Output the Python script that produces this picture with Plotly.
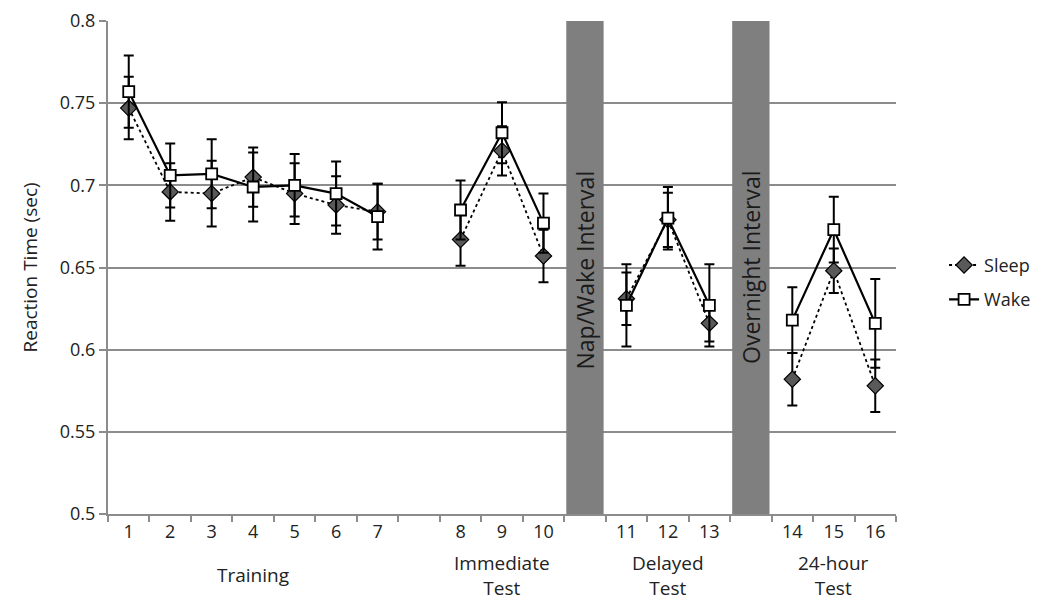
import plotly.graph_objects as go

# ---- data ----
sessions = [str(i) for i in range(1, 17)]
group_names = ["Training", "Immediate<br>Test", "Delayed<br>Test", "24-hour<br>Test"]
group_sizes = [7, 3, 3, 3]
interval_labels = ["", "Nap/Wake Interval", "Overnight Interval"]

sleep_rt = [0.747, 0.696, 0.695, 0.705, 0.695, 0.688, 0.684,
            0.667, 0.721, 0.657,
            0.631, 0.679, 0.616,
            0.582, 0.648, 0.578]
sleep_se = [0.019, 0.0175, 0.020, 0.018, 0.0185, 0.0175, 0.017,
            0.016, 0.015, 0.016,
            0.016, 0.0165, 0.011,
            0.016, 0.0135, 0.016]
wake_rt = [0.757, 0.706, 0.707, 0.699, 0.700, 0.695, 0.681,
           0.685, 0.732, 0.677,
           0.627, 0.680, 0.627,
           0.618, 0.673, 0.616]
wake_se = [0.022, 0.0195, 0.021, 0.021, 0.019, 0.0195, 0.020,
           0.018, 0.0185, 0.018,
           0.025, 0.019, 0.025,
           0.020, 0.020, 0.027]

y_ticks = [0.5, 0.55, 0.6, 0.65, 0.7, 0.75, 0.8]
y_labels = ["0.5", "0.55", "0.6", "0.65", "0.7", "0.75", "0.8"]

# ---- slot layout: sessions grouped, one empty/interval slot between groups ----
positions, sep_positions, group_centers = [], [], []
slot = 0
for gi, n in enumerate(group_sizes):
    if gi > 0:
        slot += 1
        sep_positions.append(slot)
    start = slot + 1
    for _ in range(n):
        slot += 1
        positions.append(slot)
    group_centers.append((start + slot) / 2)
n_slots = slot


def broken(values):
    """Insert None between groups so the line does not bridge the gaps."""
    out, i = [], 0
    for gi, n in enumerate(group_sizes):
        if gi > 0:
            out.append(None)
        out.extend(values[i:i + n])
        i += n
    return out


FONT = "Open Sans"
TXT = "#222222"
GRID = "#8c8c8c"
L, R, T, B = 108, 154, 21, 89
W, H = 1050, 603

fig = go.Figure()

# interval bars
bar_x = [p for p, lab in zip(sep_positions, interval_labels) if lab]
fig.add_trace(go.Bar(
    x=bar_x, y=[y_ticks[-1] - y_ticks[0]] * len(bar_x), base=y_ticks[0],
    width=0.9, marker=dict(color="#7f7f7f", line=dict(width=0)),
    showlegend=False, hoverinfo="skip"))

fig.add_trace(go.Scatter(
    x=broken(positions), y=broken(sleep_rt), name="Sleep", mode="lines+markers",
    connectgaps=False,
    line=dict(color="black", width=1.8, dash="dot"),
    marker=dict(symbol="diamond", size=12.5, color="#595959",
                line=dict(color="black", width=1.2)),
    error_y=dict(type="data", array=broken(sleep_se), color="black",
                 thickness=2, width=5),
    legendgroup="s"))

fig.add_trace(go.Scatter(
    x=broken(positions), y=broken(wake_rt), name="Wake", mode="lines+markers",
    connectgaps=False,
    line=dict(color="black", width=2.2),
    marker=dict(symbol="square", size=11, color="white",
                line=dict(color="black", width=1.8)),
    error_y=dict(type="data", array=broken(wake_se), color="black",
                 thickness=2, width=5),
    legendgroup="w"))

annotations = []
for p, lab in zip(sep_positions, interval_labels):
    if lab:
        annotations.append(dict(
            x=p, y=0.7105, xref="x", yref="y", text=lab, textangle=-90,
            showarrow=False, yanchor="top", xanchor="center",
            font=dict(family=FONT, size=23, color="#1a1a1a")))
for c, g in zip(group_centers, group_names):
    annotations.append(dict(
        x=c, y=0, xref="x", yref="paper", text=g, showarrow=False,
        yanchor="middle", yshift=-61,
        font=dict(family=FONT, size=19, color=TXT)))
# y-axis title
annotations.append(dict(
    x=-(L - 29) / (W - L - R), y=0.5, xref="paper", yref="paper",
    text="Reaction Time (sec)", textangle=-90, showarrow=False,
    xanchor="center", yanchor="middle",
    font=dict(family=FONT, size=19, color=TXT)))

fig.update_layout(
    width=W, height=H,
    margin=dict(l=L, r=R, t=T, b=B, autoexpand=False),
    paper_bgcolor="white", plot_bgcolor="white",
    font=dict(family=FONT, color=TXT),
    barmode="overlay",
    annotations=annotations,
    legend=dict(x=1.061, y=0.542, xanchor="left", yanchor="top",
                font=dict(family=FONT, size=18, color=TXT),
                traceorder="grouped", tracegroupgap=8,
                bgcolor="rgba(0,0,0,0)"),
    xaxis=dict(range=[0.5, n_slots + 0.5], tickmode="array",
               tickvals=positions, ticktext=sessions, ticks="",
               tickfont=dict(family=FONT, size=18, color=TXT),
               showgrid=False, zeroline=False, automargin=False,
               showline=True, linecolor=GRID, linewidth=2,
               minor=dict(tick0=0.5, dtick=1, ticks="outside", ticklen=6,
                          tickcolor=GRID, tickwidth=2, showgrid=False)),
    yaxis=dict(range=[y_ticks[0], y_ticks[-1]], tickmode="array",
               tickvals=y_ticks, ticktext=y_labels, automargin=False,
               ticks="outside", ticklen=7, tickcolor=GRID, tickwidth=2,
               tickfont=dict(family=FONT, size=18, color=TXT),
               showgrid=True, gridcolor=GRID, gridwidth=1.5,
               zeroline=False, showline=True, linecolor=GRID, linewidth=2),
)

fig.write_html("out.html",
               config={"displayModeBar": False},
               post_script="document.body.style.margin='0px';")
